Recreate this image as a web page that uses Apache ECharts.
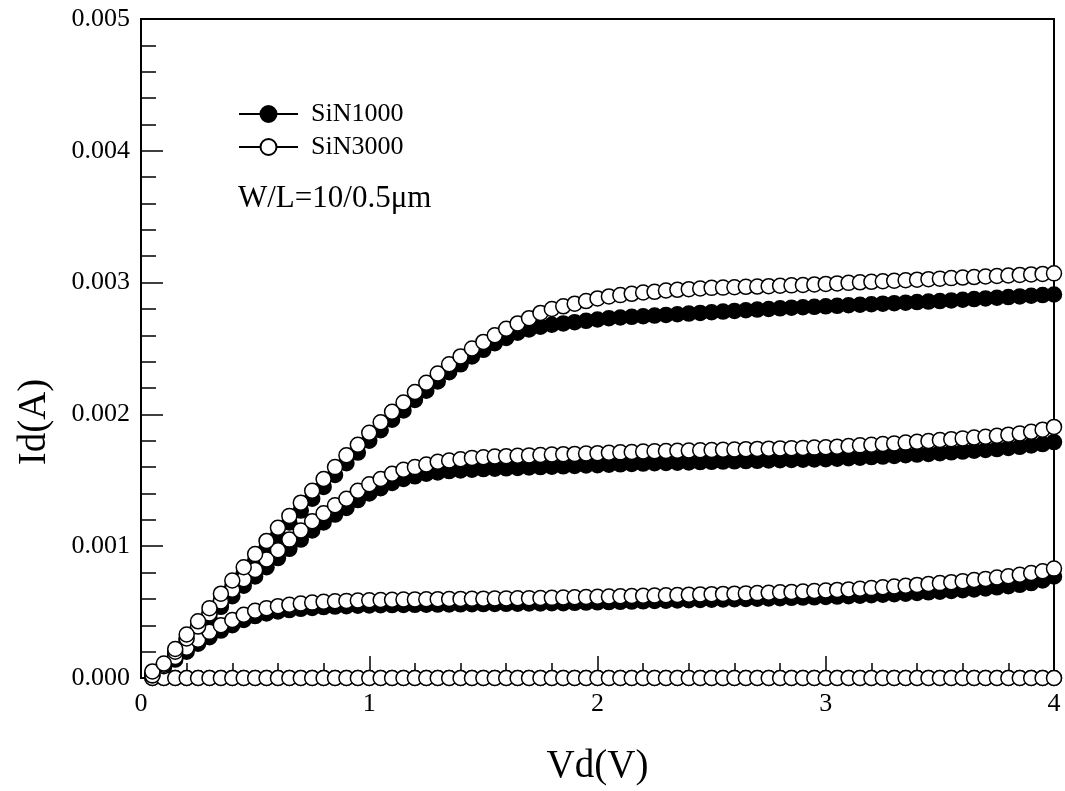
<!DOCTYPE html>
<html>
<head>
<meta charset="utf-8">
<script src="https://cdn.jsdelivr.net/npm/echarts@6/dist/echarts.min.js"></script>
<style>
  html, body { margin: 0; padding: 0; background: #fff; }
  #chart { width: 1065px; height: 791px; }
</style>
</head>
<body>
<div id="chart"></div>
<script>
// Drain voltage sweep (V)
const vd = [
  0.05,0.10,0.15,0.20,0.25,0.30,0.35,0.40,0.45,0.50,
  0.55,0.60,0.65,0.70,0.75,0.80,0.85,0.90,0.95,1.00,
  1.05,1.10,1.15,1.20,1.25,1.30,1.35,1.40,1.45,1.50,
  1.55,1.60,1.65,1.70,1.75,1.80,1.85,1.90,1.95,2.00,
  2.05,2.10,2.15,2.20,2.25,2.30,2.35,2.40,2.45,2.50,
  2.55,2.60,2.65,2.70,2.75,2.80,2.85,2.90,2.95,3.00,
  3.05,3.10,3.15,3.20,3.25,3.30,3.35,3.40,3.45,3.50,
  3.55,3.60,3.65,3.70,3.75,3.80,3.85,3.90,3.95,4.00
];

// Drain current in mA, SiN1000 device, one array per gate bias (highest first)
const sin1000_g3 = [
  0.04,0.09,0.19,0.29,0.39,0.49,0.59,0.69,0.79,0.89,
  0.99,1.08,1.18,1.27,1.36,1.45,1.54,1.63,1.71,1.80,
  1.88,1.96,2.03,2.11,2.18,2.25,2.32,2.38,2.44,2.49,
  2.54,2.58,2.62,2.645,2.665,2.68,2.69,2.70,2.71,2.72,
  2.73,2.735,2.74,2.745,2.75,2.755,2.76,2.765,2.77,2.775,
  2.78,2.785,2.79,2.795,2.80,2.805,2.81,2.813,2.816,2.82,
  2.824,2.828,2.832,2.836,2.84,2.844,2.848,2.852,2.856,2.86,
  2.865,2.87,2.875,2.88,2.885,2.89,2.895,2.90,2.905,2.91
];
const sin1000_g2 = [
  0.02,0.09,0.18,0.27,0.36,0.45,0.54,0.62,0.70,0.77,
  0.84,0.91,0.98,1.05,1.12,1.18,1.24,1.29,1.35,1.40,
  1.44,1.48,1.51,1.53,1.55,1.56,1.57,1.575,1.58,1.585,
  1.588,1.591,1.594,1.597,1.60,1.603,1.606,1.609,1.612,1.615,
  1.618,1.621,1.624,1.627,1.63,1.632,1.634,1.636,1.638,1.64,
  1.642,1.644,1.646,1.648,1.65,1.652,1.654,1.656,1.658,1.66,
  1.664,1.668,1.672,1.676,1.68,1.685,1.69,1.695,1.70,1.706,
  1.712,1.718,1.724,1.73,1.737,1.745,1.754,1.764,1.775,1.79
];
const sin1000_g1 = [
  0.02,0.08,0.14,0.20,0.26,0.31,0.36,0.40,0.44,0.47,
  0.49,0.505,0.515,0.525,0.532,0.538,0.542,0.545,0.548,0.55,
  0.552,0.553,0.554,0.555,0.556,0.557,0.558,0.559,0.56,0.561,
  0.562,0.563,0.564,0.565,0.566,0.567,0.568,0.57,0.572,0.574,
  0.576,0.578,0.58,0.582,0.584,0.586,0.588,0.59,0.592,0.594,
  0.596,0.598,0.60,0.602,0.604,0.606,0.608,0.61,0.612,0.615,
  0.618,0.621,0.624,0.628,0.632,0.636,0.64,0.645,0.65,0.655,
  0.66,0.666,0.672,0.68,0.688,0.697,0.707,0.72,0.74,0.77
];
const sin1000_g0 = [
  0,0,0,0,0,0,0,0,0,0, 0,0,0,0,0,0,0,0,0,0,
  0,0,0,0,0,0,0,0,0,0, 0,0,0,0,0,0,0,0,0,0,
  0,0,0,0,0,0,0,0,0,0, 0,0,0,0,0,0,0,0,0,0,
  0,0,0,0,0,0,0,0,0,0, 0,0,0,0,0,0,0,0,0,0
];

// Drain current in mA, SiN3000 device
const sin3000_g3 = [
  0.05,0.11,0.22,0.33,0.43,0.53,0.64,0.74,0.84,0.94,
  1.04,1.14,1.23,1.33,1.42,1.51,1.60,1.69,1.77,1.86,
  1.94,2.02,2.09,2.17,2.24,2.31,2.38,2.44,2.50,2.55,
  2.60,2.65,2.69,2.73,2.77,2.80,2.82,2.84,2.86,2.88,
  2.895,2.905,2.915,2.925,2.93,2.94,2.945,2.95,2.955,2.96,
  2.962,2.965,2.968,2.97,2.973,2.976,2.979,2.982,2.986,2.99,
  2.994,2.998,3.002,3.006,3.01,3.014,3.018,3.022,3.026,3.03,
  3.034,3.038,3.042,3.046,3.05,3.054,3.058,3.062,3.066,3.07
];
const sin3000_g2 = [
  0.02,0.10,0.20,0.30,0.39,0.49,0.58,0.67,0.75,0.82,
  0.90,0.97,1.05,1.12,1.19,1.25,1.31,1.36,1.42,1.47,
  1.51,1.55,1.58,1.60,1.62,1.64,1.65,1.66,1.67,1.675,
  1.68,1.683,1.686,1.689,1.692,1.695,1.698,1.70,1.703,1.706,
  1.709,1.712,1.715,1.718,1.72,1.722,1.724,1.726,1.728,1.73,
  1.732,1.734,1.736,1.738,1.74,1.742,1.744,1.746,1.748,1.75,
  1.755,1.76,1.765,1.77,1.775,1.78,1.786,1.792,1.798,1.805,
  1.812,1.818,1.824,1.83,1.838,1.846,1.856,1.868,1.884,1.905
];
const sin3000_g1 = [
  0.02,0.09,0.16,0.23,0.29,0.35,0.40,0.44,0.48,0.51,
  0.53,0.545,0.555,0.565,0.572,0.578,0.582,0.585,0.588,0.59,
  0.592,0.594,0.595,0.596,0.597,0.598,0.599,0.60,0.601,0.602,
  0.603,0.604,0.605,0.606,0.607,0.608,0.61,0.612,0.614,0.616,
  0.618,0.62,0.622,0.624,0.626,0.628,0.63,0.632,0.634,0.636,
  0.638,0.64,0.642,0.644,0.647,0.65,0.653,0.656,0.66,0.664,
  0.668,0.672,0.677,0.682,0.688,0.694,0.70,0.706,0.713,0.72,
  0.727,0.735,0.743,0.752,0.762,0.772,0.783,0.796,0.81,0.83
];
const sin3000_g0 = [
  0,0,0,0,0,0,0,0,0,0, 0,0,0,0,0,0,0,0,0,0,
  0,0,0,0,0,0,0,0,0,0, 0,0,0,0,0,0,0,0,0,0,
  0,0,0,0,0,0,0,0,0,0, 0,0,0,0,0,0,0,0,0,0,
  0,0,0,0,0,0,0,0,0,0, 0,0,0,0,0,0,0,0,0,0
];

const yTicks = [0, 0.001, 0.002, 0.003, 0.004, 0.005];
const xTicks = [0, 1, 2, 3, 4];

const FONT = '"Liberation Serif", "DejaVu Serif", serif';

// pair each current (mA -> A) with its drain voltage
function pts(mA) {
  return mA.map((v, i) => [vd[i], v / 1000]);
}

function curve(name, mA, filled) {
  return {
    name: name,
    type: 'line',
    data: pts(mA),
    symbol: 'circle',
    symbolSize: 15,
    showSymbol: true,
    clip: false,
    lineStyle: { color: '#000', width: 1.5 },
    itemStyle: {
      color: filled ? '#000' : '#fff',
      borderColor: '#000',
      borderWidth: 1.5
    },
    emphasis: { disabled: true }
  };
}

const chart = echarts.init(document.getElementById('chart'), null, { renderer: 'canvas' });

chart.setOption({
  animation: false,
  backgroundColor: '#fff',
  grid: {
    left: 141, right: 11, top: 19, bottom: 113,
    outerBoundsMode: 'none',
    containLabel: false,
    show: true, borderColor: '#000', borderWidth: 2, backgroundColor: 'transparent'
  },
  legend: {
    data: ['SiN1000', 'SiN3000'],
    orient: 'vertical',
    left: 238, top: 101,
    padding: 0,
    itemWidth: 59, itemHeight: 20, itemGap: 7,
    textStyle: { fontFamily: FONT, fontSize: 26, color: '#000', padding: [0, 0, 0, 8] },
    selectedMode: false
  },
  graphic: [
    {
      type: 'text',
      left: 238, top: 183,
      style: { text: 'W/L=10/0.5μm', font: '31px ' + FONT, fill: '#000' }
    },
    {
      // y-axis title, set a little below the middle of the axis
      type: 'text',
      x: 35, y: 422,
      rotation: Math.PI / 2,
      style: {
        text: 'Id(A)', font: '39px ' + FONT, fill: '#000',
        align: 'center', verticalAlign: 'middle'
      }
    }
  ],
  xAxis: {
    type: 'value',
    min: xTicks[0], max: xTicks[xTicks.length - 1], interval: 1,
    name: 'Vd(V)', nameLocation: 'middle', nameGap: 69,
    nameTextStyle: { fontFamily: FONT, fontSize: 39, color: '#000' },
    axisLine: { show: true, onZero: false, lineStyle: { color: '#000', width: 2 } },
    axisTick: { show: true, inside: true, length: 22, lineStyle: { color: '#000', width: 1.5 } },
    minorTick: { show: true, splitNumber: 5, length: 15, lineStyle: { color: '#000', width: 1.5 } },
    splitLine: { show: false },
    axisLabel: { fontFamily: FONT, fontSize: 26, color: '#000', margin: 13 }
  },
  yAxis: {
    type: 'value',
    min: yTicks[0], max: yTicks[yTicks.length - 1], interval: 0.001,
    axisLine: { show: true, onZero: false, lineStyle: { color: '#000', width: 2 } },
    axisTick: { show: true, inside: true, length: 22, lineStyle: { color: '#000', width: 1.5 } },
    minorTick: { show: true, splitNumber: 5, length: 15, lineStyle: { color: '#000', width: 1.5 } },
    splitLine: { show: false },
    axisLabel: {
      fontFamily: FONT, fontSize: 26, color: '#000', margin: 11,
      formatter: v => v.toFixed(3)
    }
  },
  series: [
    curve('SiN1000', sin1000_g0, true),
    curve('SiN1000', sin1000_g1, true),
    curve('SiN1000', sin1000_g2, true),
    curve('SiN1000', sin1000_g3, true),
    curve('SiN3000', sin3000_g0, false),
    curve('SiN3000', sin3000_g1, false),
    curve('SiN3000', sin3000_g2, false),
    curve('SiN3000', sin3000_g3, false)
  ]
});
</script>
</body>
</html>
